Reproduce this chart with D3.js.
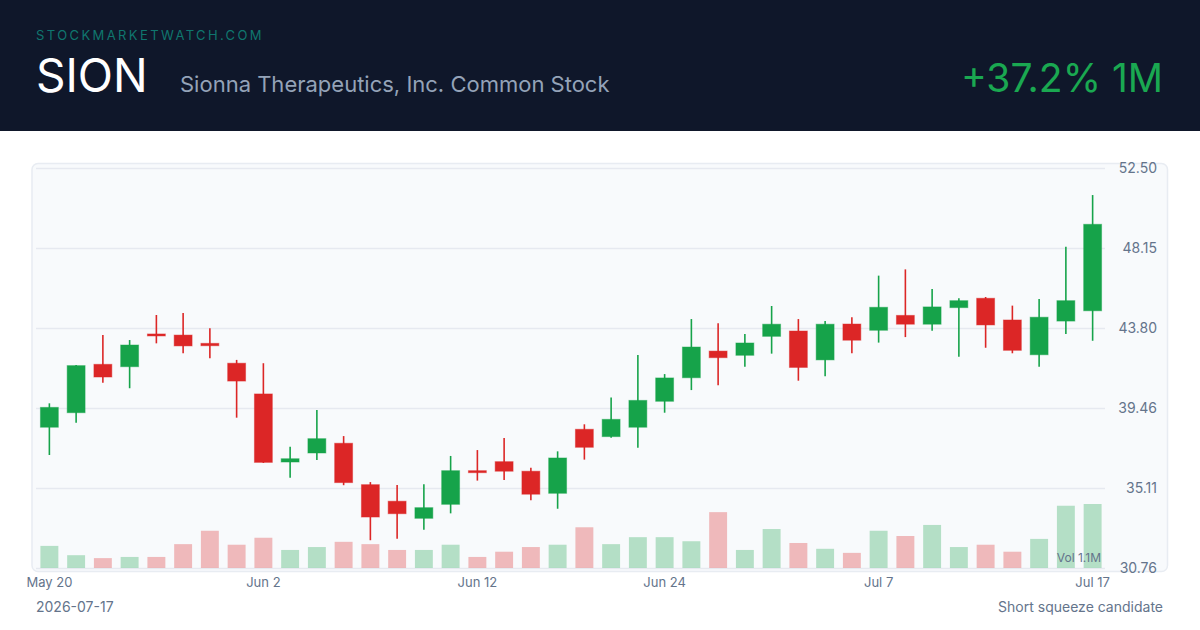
<!DOCTYPE html>
<html>
<head>
<meta charset="utf-8">
<script src="https://cdn.jsdelivr.net/npm/d3@7"></script>
<style>
  html, body { margin: 0; padding: 0; background: #ffffff; }
  svg { display: block; font-family: Inter, "Noto Sans", sans-serif; }
</style>
</head>
<body>
<svg width="1200" height="630"></svg>
<script>
// trading days, May 20 -> Jul 17
const dates = ["2026-05-20","2026-05-21","2026-05-22","2026-05-26","2026-05-27","2026-05-28","2026-05-29","2026-06-01","2026-06-02","2026-06-03","2026-06-04","2026-06-05","2026-06-08","2026-06-09","2026-06-10","2026-06-11","2026-06-12","2026-06-15","2026-06-16","2026-06-17","2026-06-18","2026-06-22","2026-06-23","2026-06-24","2026-06-25","2026-06-26","2026-06-29","2026-06-30","2026-07-01","2026-07-02","2026-07-06","2026-07-07","2026-07-08","2026-07-09","2026-07-10","2026-07-13","2026-07-14","2026-07-15","2026-07-16","2026-07-17"];
const opens  = [38.41,39.20,41.83,41.70,43.48,43.42,42.97,41.89,40.22,36.52,37.01,37.54,35.29,34.39,33.46,34.22,36.05,36.54,36.02,34.82,38.30,37.90,38.41,39.82,41.10,42.55,42.32,43.35,43.64,42.07,44.02,43.68,44.49,44.01,44.91,45.42,44.24,42.35,44.18,44.74];
const highs  = [39.71,41.79,43.42,43.15,44.51,44.62,43.79,42.07,41.89,37.35,39.35,37.93,35.43,35.27,35.31,36.85,37.17,37.83,36.21,37.10,38.57,40.02,42.34,41.30,44.29,44.06,43.48,45.00,44.29,44.18,44.39,46.65,46.99,45.92,45.42,45.49,45.02,45.38,48.22,51.03];
const lows   = [36.90,38.66,40.83,40.53,42.97,42.43,42.16,38.93,36.47,35.67,36.63,35.26,32.27,32.35,32.84,33.73,35.51,35.54,34.44,33.98,36.65,37.84,37.30,39.20,40.43,40.69,41.70,42.41,40.94,41.18,42.43,43.01,43.31,43.66,42.24,42.73,42.43,41.70,43.48,43.11];
const closes = [39.49,41.76,41.14,42.88,43.41,42.83,42.84,40.92,36.50,36.70,37.79,35.40,33.53,33.71,34.04,36.05,35.94,36.02,34.77,36.74,37.32,38.84,39.87,41.09,42.77,42.19,42.99,44.01,41.66,44.01,43.14,44.93,44.01,44.95,45.29,43.97,42.59,44.39,45.29,49.44];
// volume in millions
const volumes = [0.38,0.22,0.17,0.19,0.19,0.41,0.64,0.40,0.52,0.31,0.36,0.45,0.41,0.31,0.31,0.40,0.19,0.28,0.36,0.40,0.70,0.41,0.53,0.53,0.46,0.96,0.31,0.67,0.43,0.33,0.26,0.64,0.55,0.74,0.36,0.40,0.28,0.50,1.07,1.10];

const yTicks = [30.76, 35.11, 39.46, 43.80, 48.15, 52.50];
const xTickDates = ["2026-05-20","2026-06-02","2026-06-12","2026-06-24","2026-07-07","2026-07-17"];

const GREEN = '#16a34a';
const RED = '#dc2626';

const svg = d3.select('svg');

// header band
svg.append('rect').attr('x', 0).attr('y', 0).attr('width', 1200).attr('height', 131).attr('fill', '#0f172a');
svg.append('text').attr('x', 36).attr('y', 40).text('STOCKMARKETWATCH.COM')
  .attr('fill', '#0f766e').attr('font-size', 13).attr('letter-spacing', 2.4);
svg.append('text').attr('x', 36).attr('y', 92).text('SION')
  .attr('fill', '#ffffff').attr('font-size', 46);
svg.append('text').attr('x', 180).attr('y', 92).text('Sionna Therapeutics, Inc. Common Stock')
  .attr('fill', '#94a3b8').attr('font-size', 22);
svg.append('text').attr('x', 1163).attr('y', 92).attr('text-anchor', 'end').text('+37.2% 1M')
  .attr('fill', '#1aa851').attr('font-size', 39);

// chart panel
svg.append('rect').attr('x', 32).attr('y', 163.5).attr('width', 1135.5).attr('height', 408)
  .attr('rx', 6).attr('fill', '#f8fafc').attr('stroke', '#e8ecf2').attr('stroke-width', 1.5);

const x = d3.scaleBand().domain(dates).range([36, 1106]).paddingInner(0.33).paddingOuter(0.165);
const y = d3.scaleLinear().domain([30.76, 52.50]).range([568, 168]);
const v = d3.scaleLinear().domain([0, 1.1]).range([568, 504]);

// grid + price labels
const yAxis = svg.append('g').attr('transform', 'translate(36,0)')
  .call(d3.axisRight(y).tickValues(yTicks).tickSize(1069).tickFormat(d3.format('.2f')));
yAxis.select('.domain').remove();
yAxis.selectAll('line').attr('stroke', '#e6e9f0').attr('stroke-width', 1.5);
yAxis.selectAll('text').attr('x', 1121).attr('text-anchor', 'end')
  .attr('fill', '#64748b').attr('font-size', 14).attr('font-family', 'Inter, sans-serif');

// volume bars
svg.append('g').selectAll('rect').data(dates).join('rect')
  .attr('x', (d) => x(d))
  .attr('width', x.bandwidth())
  .attr('y', (d, i) => v(volumes[i]))
  .attr('height', (d, i) => 568 - v(volumes[i]))
  .attr('fill', (d, i) => closes[i] >= opens[i] ? GREEN : RED)
  .attr('fill-opacity', 0.3);

svg.append('text').attr('x', 1101).attr('y', 562).attr('text-anchor', 'end').text('Vol 1.1M')
  .attr('fill', '#64748b').attr('font-size', 12);

// candles
const candles = svg.append('g').selectAll('g').data(dates).join('g');
candles.append('line')
  .attr('x1', (d) => x(d) + x.bandwidth() / 2)
  .attr('x2', (d) => x(d) + x.bandwidth() / 2)
  .attr('y1', (d, i) => y(highs[i]))
  .attr('y2', (d, i) => y(lows[i]))
  .attr('stroke', (d, i) => closes[i] >= opens[i] ? GREEN : RED)
  .attr('stroke-width', 1.6);
candles.append('rect')
  .attr('x', (d) => x(d))
  .attr('width', x.bandwidth())
  .attr('y', (d, i) => y(Math.max(opens[i], closes[i])))
  .attr('height', (d, i) => Math.max(2, Math.abs(y(opens[i]) - y(closes[i]))))
  .attr('fill', (d, i) => closes[i] >= opens[i] ? GREEN : RED)
  .attr('stroke', (d, i) => closes[i] >= opens[i] ? GREEN : RED)
  .attr('stroke-opacity', 0.45)
  .attr('stroke-width', 1);

// date labels
const fmt = d3.timeFormat('%b %-d');
const xAxis = svg.append('g').attr('transform', 'translate(0,576)')
  .call(d3.axisBottom(x).tickValues(xTickDates).tickSize(0).tickPadding(2)
    .tickFormat((d) => fmt(d3.timeParse('%Y-%m-%d')(d))));
xAxis.select('.domain').remove();
xAxis.selectAll('text').attr('fill', '#64748b').attr('font-size', 13).attr('font-family', 'Inter, sans-serif');

// footer
svg.append('text').attr('x', 36).attr('y', 612).text('2026-07-17')
  .attr('fill', '#64748b').attr('font-size', 14);
svg.append('text').attr('x', 1163).attr('y', 612).attr('text-anchor', 'end').text('Short squeeze candidate')
  .attr('fill', '#64748b').attr('font-size', 14);
</script>
</body>
</html>
